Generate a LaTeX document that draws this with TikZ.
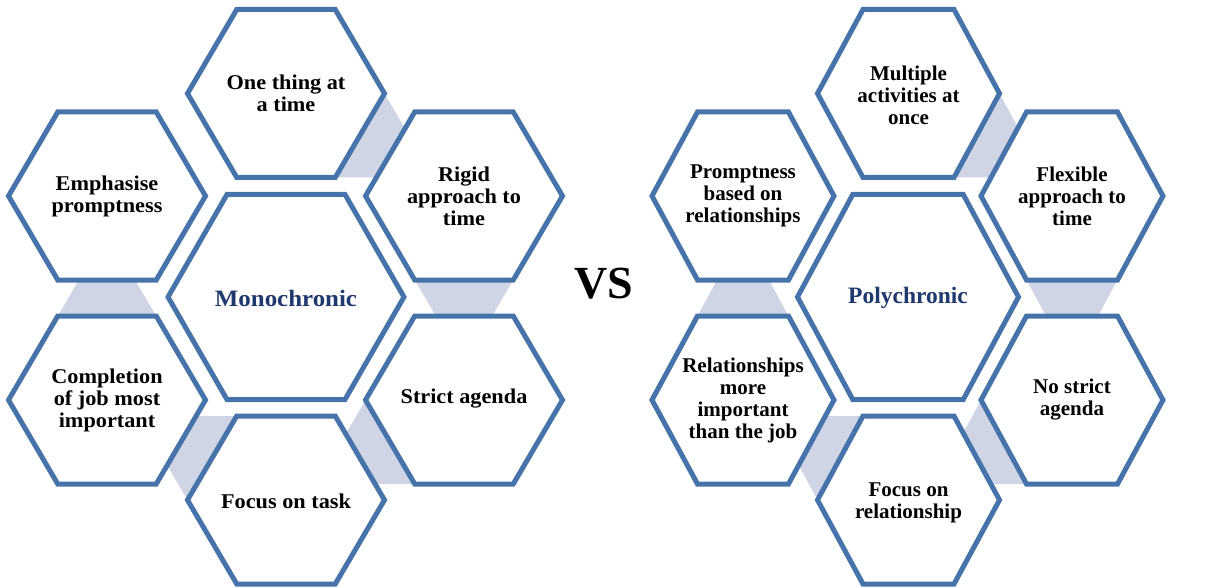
\documentclass[tikz,border=0pt]{standalone}
\usepackage{fontspec}
\setmainfont{Liberation Serif}
\newfontfamily\widefont[FakeStretch=1.06]{Liberation Serif}
\definecolor{hexblue}{RGB}{70, 116, 170}
\definecolor{linkgray}{RGB}{207, 213, 228}
\definecolor{headnavy}{RGB}{31, 56, 110}
\usepackage{tikz}

\begin{document}
\begin{tikzpicture}[x=1pt, y=-1pt,
  hexline/.style={draw=hexblue, line width=5pt, fill=white},
  link/.style={fill=linkgray},
  monotext/.style={align=center, font=\widefont\bfseries\fontsize{21}{22}\selectfont},
  polytext/.style={align=center, font=\bfseries\fontsize{21}{22}\selectfont},
  headtext/.style={align=center, text=headnavy}]
  \useasboundingbox (0,0) rectangle (1205,588);

  % Monochronic: links between the outer cells
  \fill[link] (384.5,93.5) -- (335.25,177.5) -- (433.75,177.5) -- cycle;
  \fill[link] (414.75,280) -- (513.25,280) -- (464,364) -- cycle;
  \fill[link] (365.5,400) -- (414.75,484) -- (316.25,484) -- cycle;
  \fill[link] (187.5,500) -- (236.75,416) -- (138.25,416) -- cycle;
  \fill[link] (57.75,316) -- (156.25,316) -- (107,232) -- cycle;

  % Monochronic: cells
  \draw[hexline] (168,297) -- ++(59,-102.5) -- ++(118,0) -- ++(59,102.5) -- ++(-59,102.5) -- ++(-118,0) -- cycle;
  \draw[hexline] (187.5,93.5) -- ++(49.25,-84) -- ++(98.5,0) -- ++(49.25,84) -- ++(-49.25,84) -- ++(-98.5,0) -- cycle;
  \draw[hexline] (365.5,196) -- ++(49.25,-84) -- ++(98.5,0) -- ++(49.25,84) -- ++(-49.25,84) -- ++(-98.5,0) -- cycle;
  \draw[hexline] (365.5,400) -- ++(49.25,-84) -- ++(98.5,0) -- ++(49.25,84) -- ++(-49.25,84) -- ++(-98.5,0) -- cycle;
  \draw[hexline] (187.5,500) -- ++(49.25,-84) -- ++(98.5,0) -- ++(49.25,84) -- ++(-49.25,84) -- ++(-98.5,0) -- cycle;
  \draw[hexline] (8.5,400) -- ++(49.25,-84) -- ++(98.5,0) -- ++(49.25,84) -- ++(-49.25,84) -- ++(-98.5,0) -- cycle;
  \draw[hexline] (8.5,196) -- ++(49.25,-84) -- ++(98.5,0) -- ++(49.25,84) -- ++(-49.25,84) -- ++(-98.5,0) -- cycle;

  % Monochronic: texts
  \node[headtext, font=\widefont\bfseries\fontsize{23.5}{26}\selectfont] (mono) at (286,298) {Monochronic};
  \node[monotext] (onething) at (286,93) {One thing at\\a time};
  \node[monotext] (rigid) at (464,196) {Rigid\\approach to\\time};
  \node[monotext] (strict) at (464,399) {Strict agenda};
  \node[monotext] (task) at (286,501) {Focus on task};
  \node[monotext] (completion) at (107,400) {Completion\\of job most\\important};
  \node[monotext] (emphasise) at (107,196) {Emphasise\\promptness};

  % VS
  \node[font=\bfseries\fontsize{46}{50}\selectfont] (vs) at (604,284) {VS};

  % Polychronic: links between the outer cells
  \fill[link] (999.5,93.5) -- (954,177.5) -- (1045,177.5) -- cycle;
  \fill[link] (1026.5,280) -- (1117.5,280) -- (1072,364) -- cycle;
  \fill[link] (981,400) -- (1026.5,484) -- (935.5,484) -- cycle;
  \fill[link] (817.5,500) -- (863,416) -- (772,416) -- cycle;
  \fill[link] (697.5,316) -- (788.5,316) -- (743,232) -- cycle;

  % Polychronic: cells
  \draw[hexline] (797.5,297) -- ++(55.25,-102.5) -- ++(110.5,0) -- ++(55.25,102.5) -- ++(-55.25,102.5) -- ++(-110.5,0) -- cycle;
  \draw[hexline] (817.5,93.5) -- ++(45.5,-84) -- ++(91,0) -- ++(45.5,84) -- ++(-45.5,84) -- ++(-91,0) -- cycle;
  \draw[hexline] (981,196) -- ++(45.5,-84) -- ++(91,0) -- ++(45.5,84) -- ++(-45.5,84) -- ++(-91,0) -- cycle;
  \draw[hexline] (981,400) -- ++(45.5,-84) -- ++(91,0) -- ++(45.5,84) -- ++(-45.5,84) -- ++(-91,0) -- cycle;
  \draw[hexline] (817.5,500) -- ++(45.5,-84) -- ++(91,0) -- ++(45.5,84) -- ++(-45.5,84) -- ++(-91,0) -- cycle;
  \draw[hexline] (652,400) -- ++(45.5,-84) -- ++(91,0) -- ++(45.5,84) -- ++(-45.5,84) -- ++(-91,0) -- cycle;
  \draw[hexline] (652,196) -- ++(45.5,-84) -- ++(91,0) -- ++(45.5,84) -- ++(-45.5,84) -- ++(-91,0) -- cycle;

  % Polychronic: texts
  \node[headtext, font=\bfseries\fontsize{23.5}{26}\selectfont] (poly) at (908,298) {Polychronic};
  \node[polytext] (multiple) at (908.5,95) {Multiple\\activities at\\once};
  \node[polytext] (flexible) at (1072,196) {Flexible\\approach to\\time};
  \node[polytext] (nostrict) at (1072,400) {No strict\\agenda};
  \node[polytext] (relationship) at (908.5,503) {Focus on\\relationship};
  \node[polytext] (morejob) at (743,400) {Relationships\\more\\important\\than the job};
  \node[polytext] (promptness) at (743,196) {Promptness\\based on\\relationships};
\end{tikzpicture}
\end{document}
